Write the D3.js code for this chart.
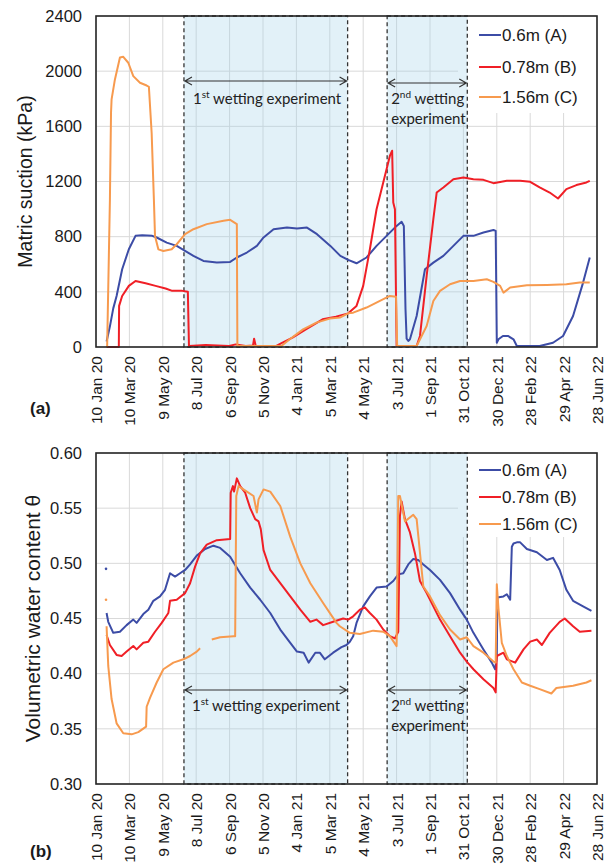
<!DOCTYPE html>
<html><head><meta charset="utf-8">
<script src="https://cdn.jsdelivr.net/npm/d3@7"></script>
<style>body{margin:0;background:#fff} svg{display:block}</style>
</head><body><svg id="c" width="614" height="866"></svg>
<script>
// ---------- data (x = days since 10 Jan 2020) ----------
const tickDays = [0,60,120,180,240,300,360,420,480,540,600,660,720,780,840,900];
const tickLabels = ["10 Jan 20","10 Mar 20","9 May 20","8 Jul 20","6 Sep 20","5 Nov 20","4 Jan 21","5 Mar 21","4 May 21","3 Jul 21","1 Sep 21","31 Oct 21","30 Dec 21","28 Feb 22","29 Apr 22","28 Jun 22"];
const seriesNames = ["0.6m (A)","0.78m (B)","1.56m (C)"];
const seriesColors = ["#3c4ca6","#f01f26","#f79a4e"];
const wettingPeriods = [[158,452],[523,667]];
const suctionTicks = [0,400,800,1200,1600,2000,2400];
const vwcTicks = [0.30,0.35,0.40,0.45,0.50,0.55,0.60];

const suctionA = [[19,40],[25,150],[31,280],[37,370],[47,564],[59,709],[71,806],[83,811],[101,806],[109,794],[127,757],[145,733],[160,697],[175,661],[193,624],[217,612],[241,617],[253,649],[271,685],[289,733],[301,794],[319,854],[343,866],[361,859],[379,866],[397,818],[421,733],[439,661],[453,632],[468,607],[486,649],[504,733],[522,806],[540,878],[549,908],[553,878],[556,273],[558,60],[561,44],[564,56],[576,225],[591,564],[606,612],[624,661],[642,733],[660,806],[678,806],[696,830],[714,849],[718,842],[720,31],[723,56],[731,80],[740,80],[750,56],[756,7],[797,7],[821,31],[839,80],[857,225],[875,467],[887,649]];
const suctionB = [[19,0],[41,0],[41.5,298],[47,370],[59,443],[71,479],[89,462],[107,443],[125,424],[137,407],[155,407],[165,400],[167,7],[197,15],[239,7],[251,19],[269,7],[282,10],[284,60],[287,7],[323,7],[335,31],[353,68],[377,128],[407,201],[431,220],[453,244],[468,298],[480,443],[492,709],[504,999],[516,1193],[528,1387],[532,1423],[534,1048],[537,999],[540,7],[576,7],[582,80],[594,515],[606,927],[612,1120],[624,1157],[642,1217],[660,1229],[678,1217],[696,1212],[714,1188],[738,1205],[762,1205],[780,1198],[797,1157],[815,1120],[830,1077],[845,1145],[863,1174],[881,1193],[887,1205]];
const suctionC = [[20,0],[25,1070],[27,1700],[28,1795],[34,1940],[43,2099],[49,2104],[58,2061],[67,1964],[79,1916],[91,1896],[95,1887],[100,1550],[104,1070],[106,804],[112,708],[121,696],[136,709],[145,745],[160,818],[175,854],[199,891],[229,915],[241,922],[253,891],[254,7],[333,7],[348,56],[372,128],[396,177],[420,206],[438,213],[453,244],[462,249],[486,286],[510,334],[528,370],[539,365],[541,7],[576,7],[594,152],[606,334],[618,407],[636,455],[654,479],[678,479],[702,491],[714,472],[726,443],[732,394],[744,431],[774,448],[810,450],[845,455],[869,467],[887,467]];

const vwcA = [[19,0.455],[22,0.447],[31,0.437],[43,0.438],[55,0.444],[67,0.449],[73,0.446],[85,0.454],[94,0.458],[103,0.466],[115,0.470],[124,0.476],[133,0.491],[142,0.488],[151,0.491],[160,0.494],[169,0.499],[181,0.507],[196,0.513],[211,0.516],[223,0.514],[241,0.506],[259,0.491],[277,0.478],[295,0.467],[313,0.455],[331,0.440],[349,0.428],[361,0.420],[373,0.419],[382,0.410],[394,0.419],[402,0.419],[411,0.413],[426,0.419],[441,0.424],[450,0.426],[456,0.429],[462,0.434],[468,0.446],[480,0.461],[492,0.470],[504,0.478],[522,0.479],[534,0.484],[543,0.490],[552,0.491],[561,0.499],[570,0.504],[579,0.503],[588,0.499],[600,0.494],[618,0.485],[636,0.473],[654,0.458],[666,0.449],[678,0.437],[696,0.422],[711,0.410],[717,0.404],[720,0.416],[721,0.469],[732,0.470],[738,0.472],[744,0.467],[747,0.515],[750,0.518],[756,0.519],[762,0.519],[774,0.513],[792,0.510],[810,0.503],[821,0.505],[833,0.494],[845,0.476],[857,0.466],[875,0.461],[890,0.457]];
const vwcB = [[19,0.435],[25,0.426],[37,0.417],[46,0.416],[55,0.420],[67,0.425],[73,0.422],[85,0.428],[94,0.429],[106,0.438],[118,0.446],[130,0.455],[133,0.466],[145,0.467],[160,0.473],[169,0.482],[178,0.497],[187,0.509],[199,0.517],[217,0.521],[241,0.522],[242,0.564],[246,0.570],[248,0.565],[253,0.577],[259,0.570],[268,0.564],[277,0.550],[286,0.540],[292,0.538],[296,0.531],[301,0.512],[313,0.494],[331,0.482],[349,0.470],[367,0.458],[385,0.447],[396,0.449],[408,0.444],[426,0.447],[444,0.450],[453,0.449],[462,0.452],[474,0.458],[483,0.460],[492,0.455],[504,0.449],[516,0.440],[528,0.434],[537,0.432],[543,0.438],[546,0.543],[549,0.556],[555,0.540],[564,0.528],[573,0.509],[582,0.484],[594,0.473],[606,0.461],[618,0.449],[636,0.434],[654,0.419],[666,0.411],[678,0.404],[696,0.395],[714,0.387],[718,0.383],[720,0.416],[732,0.419],[738,0.413],[753,0.410],[768,0.422],[780,0.429],[792,0.431],[801,0.426],[815,0.437],[833,0.447],[842,0.450],[857,0.443],[869,0.438],[890,0.439]];
const vwcC = [[19,0.443],[22,0.407],[28,0.377],[37,0.355],[49,0.346],[64,0.345],[76,0.347],[90,0.352],[91,0.370],[97,0.378],[109,0.392],[121,0.404],[139,0.410],[157,0.413],[169,0.416],[181,0.420],[187,0.423],[188,null],[208,0.431],[223,0.433],[247,0.434],[250,0.434],[252,0.561],[256,0.570],[271,0.565],[283,0.561],[289,0.546],[292,0.558],[301,0.567],[313,0.565],[331,0.552],[349,0.524],[367,0.500],[385,0.482],[408,0.464],[432,0.446],[438,0.443],[456,0.437],[474,0.436],[498,0.439],[516,0.438],[528,0.434],[540,0.425],[543,0.561],[546,0.561],[555,0.538],[570,0.544],[576,0.540],[588,0.479],[600,0.470],[618,0.453],[636,0.440],[654,0.431],[666,0.433],[678,0.425],[696,0.419],[714,0.411],[718,0.410],[720,0.481],[723,0.459],[729,0.428],[738,0.416],[750,0.404],[765,0.392],[780,0.389],[797,0.386],[818,0.382],[827,0.387],[857,0.389],[881,0.392],[890,0.394]];
const vwcDotsA = [[18,0.495]];
const vwcDotsC = [[18,0.467]];

// ---------- drawing ----------
const svg = d3.select("#c");
const FONT = "'Liberation Sans', Arial, sans-serif";
const ANN = "Lato, 'Open Sans', sans-serif";
const L = 96, R = 597;
const x = d3.scaleLinear().domain([0, 900]).range([L, R]);

function panel(cfg) {
  const y = d3.scaleLinear().domain(cfg.domain).range([cfg.bottom, cfg.top]);
  const g = svg.append("g");
  g.append("g").selectAll("line").data(tickDays).join("line")
    .attr("x1", d => x(d)).attr("x2", d => x(d)).attr("y1", cfg.top).attr("y2", cfg.bottom)
    .attr("stroke", "#d9d9d9").attr("stroke-width", 1);
  g.append("g").selectAll("line").data(cfg.ticks).join("line")
    .attr("x1", L).attr("x2", R).attr("y1", d => y(d)).attr("y2", d => y(d))
    .attr("stroke", "#d9d9d9").attr("stroke-width", 1);
  g.append("rect").attr("x", 458).attr("y", cfg.top + 1).attr("width", R - 459).attr("height", cfg.legendH)
    .attr("fill", "#fff");
  wettingPeriods.forEach(p => {
    g.append("rect").attr("x", x(p[0])).attr("y", y(cfg.domain[1])).attr("width", x(p[1]) - x(p[0]))
      .attr("height", y(cfg.domain[0]) - y(cfg.domain[1]))
      .attr("fill", "rgba(160,210,232,0.30)").attr("stroke", "#333").attr("stroke-width", 1.3)
      .attr("stroke-dasharray", "4,3");
  });
  const line = d3.line().defined(d => d[1] != null).x(d => x(d[0])).y(d => y(d[1]));
  cfg.series.forEach((s, i) => {
    g.append("path").datum(s).attr("d", line).attr("fill", "none")
      .attr("stroke", seriesColors[i]).attr("stroke-width", 2).attr("stroke-linejoin", "round");
  });
  (cfg.dots || []).forEach(([pts, i]) => {
    g.selectAll(null).data(pts).join("circle").attr("cx", d => x(d[0])).attr("cy", d => y(d[1]))
      .attr("r", 1.3).attr("fill", seriesColors[i]);
  });
  const ya = d3.axisLeft(y).tickValues(cfg.ticks).tickFormat(cfg.fmt).tickSize(0).tickPadding(14);
  const yg = g.append("g").attr("transform", `translate(${L},0)`).call(ya);
  yg.select(".domain").remove();
  yg.selectAll("text").attr("font-family", FONT).attr("font-size", 16.5).attr("fill", "#1a1a1a");
  const xa = d3.axisBottom(x).tickValues(tickDays).tickFormat((d, i) => tickLabels[i]).tickSize(0);
  const xg = g.append("g").attr("transform", `translate(0,${cfg.bottom})`).call(xa);
  xg.select(".domain").remove();
  xg.selectAll("text").attr("font-family", FONT).attr("font-size", 15.5).attr("fill", "#1a1a1a")
    .attr("text-anchor", "end").attr("transform", "rotate(-90)").attr("x", -9).attr("y", 0).attr("dy", "0.35em");
  g.append("rect").attr("x", L).attr("y", cfg.top).attr("width", R - L).attr("height", cfg.bottom - cfg.top)
    .attr("fill", "none").attr("stroke", "#262626").attr("stroke-width", 1.6);
  g.append("text").attr("transform", `translate(${cfg.titleX},${(cfg.top + cfg.bottom) / 2}) rotate(-90)`)
    .attr("text-anchor", "middle").attr("font-family", FONT).attr("font-size", cfg.titleSize)
    .attr("fill", "#1a1a1a").text(cfg.title);
  g.append("text").attr("x", 30).attr("y", cfg.tagY).attr("font-family", FONT).attr("font-size", 17)
    .attr("font-weight", "bold").attr("fill", "#1a1a1a").text(cfg.tag);
  seriesNames.forEach((n, i) => {
    const ly = cfg.legendY[i];
    g.append("line").attr("x1", 479).attr("x2", 501).attr("y1", ly).attr("y2", ly)
      .attr("stroke", seriesColors[i]).attr("stroke-width", 2);
    g.append("text").attr("x", 502).attr("y", ly).attr("dy", "0.35em").attr("font-family", FONT)
      .attr("font-size", 17).attr("fill", "#1a1a1a").text(n);
  });
  const ord = ["st", "nd"];
  wettingPeriods.forEach((p, i) => {
    const a = cfg.ann[i];
    const x0 = x(p[0]) + 1, x1 = x(p[1]) - 1;
    g.append("path").attr("d", `M${x0},${a.arrowY}H${x1}M${x0 + 7},${a.arrowY - 4}L${x0},${a.arrowY}L${x0 + 7},${a.arrowY + 4}M${x1 - 7},${a.arrowY - 4}L${x1},${a.arrowY}L${x1 - 7},${a.arrowY + 4}`)
      .attr("fill", "none").attr("stroke", "#333").attr("stroke-width", 1.2);
    const t = g.append("text").attr("x", x(p[0]) + a.dx).attr("y", a.textY)
      .attr("font-family", ANN).attr("font-size", 15).attr("fill", "#222");
    t.append("tspan").text(String(i + 1));
    t.append("tspan").attr("font-size", 10).attr("dy", -6).text(ord[i]);
    t.append("tspan").attr("dy", 6).text(i === 0 ? " wetting experiment" : " wetting");
    if (i === 1) {
      g.append("text").attr("x", x(p[0]) + a.dx).attr("y", a.textY + 20)
        .attr("font-family", ANN).attr("font-size", 15).attr("fill", "#222").text("experiment");
    }
  });
}

panel({
  top: 16, bottom: 347, domain: [0, 2400], ticks: suctionTicks, fmt: d => d,
  series: [suctionA, suctionB, suctionC],
  title: "Matric suction (kPa)", titleX: 32, titleSize: 19.5, tag: "(a)", tagY: 414,
  legendY: [35, 67, 97], legendH: 96,
  ann: [{arrowY: 81, textY: 104, dx: 9}, {arrowY: 83, textY: 104, dx: 4}]
});
panel({
  top: 453, bottom: 784, domain: [0.30, 0.60], ticks: vwcTicks, fmt: d3.format(".2f"),
  series: [vwcA, vwcB, vwcC], dots: [[vwcDotsA, 0], [vwcDotsC, 2]],
  title: "Volumetric water content θ", titleX: 40, titleSize: 21, tag: "(b)", tagY: 857,
  legendY: [470, 497, 524], legendH: 83,
  ann: [{arrowY: 690, textY: 711, dx: 8}, {arrowY: 690, textY: 711, dx: 4}]
});
</script></body></html>
